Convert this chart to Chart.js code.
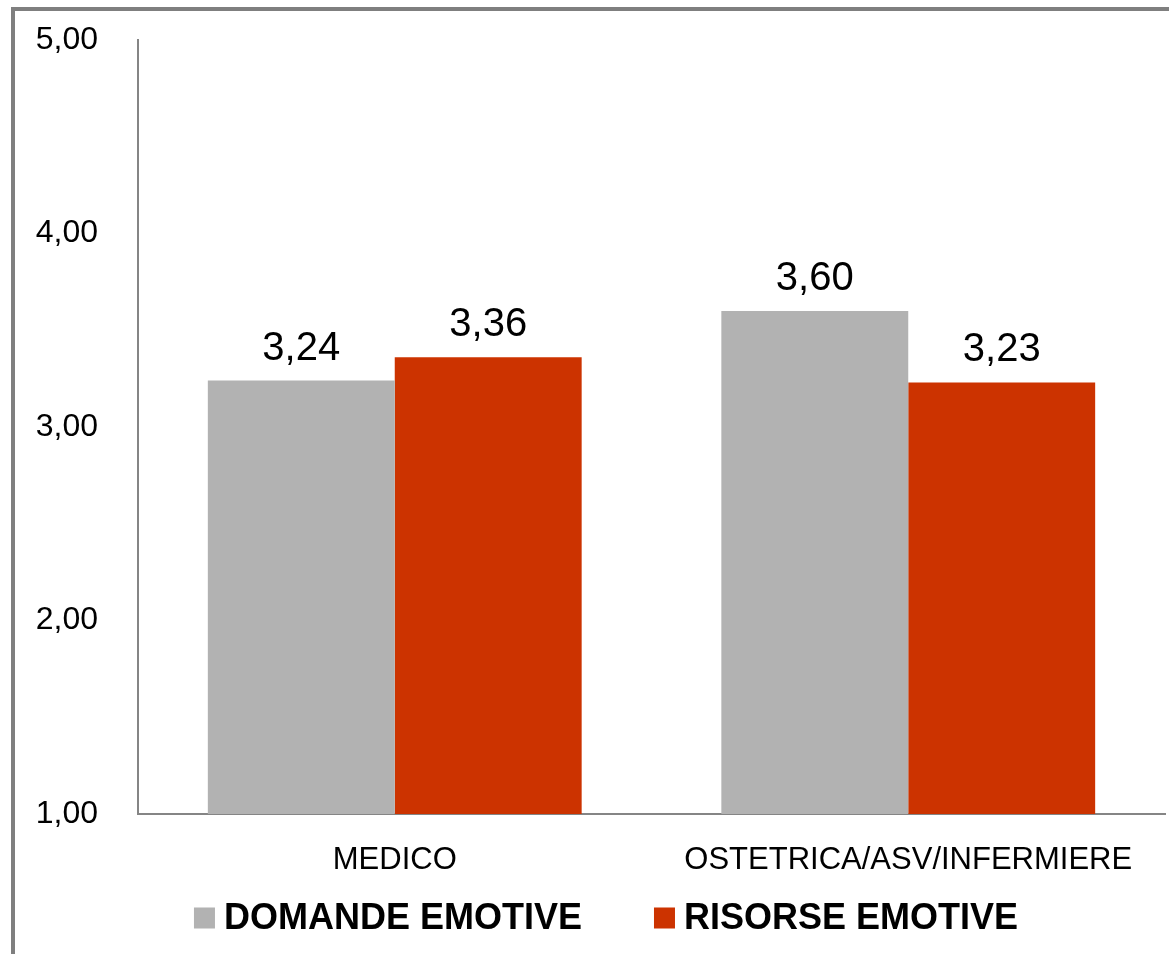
<!DOCTYPE html>
<html>
<head>
<meta charset="utf-8">
<script src="https://cdn.jsdelivr.net/npm/chart.js@4.4.1/dist/chart.umd.min.js"></script>
<style>
  body { margin: 0; background: #fff; }
  #wrap { position: relative; width: 1169px; height: 954px; }
  #frame { position: absolute; left: 11px; top: 7px; right: 0; bottom: 0;
           border-top: 4px solid #7f7f7f; border-left: 4px solid #7f7f7f; }
  canvas { position: absolute; left: 0; top: 0; }
</style>
</head>
<body>
<div id="wrap">
  <div id="frame"></div>
  <canvas id="myChart" width="1169" height="954"></canvas>
</div>
<script>
const categories = ['MEDICO', 'OSTETRICA/ASV/INFERMIERE'];
const domande = [3.24, 3.60];
const risorse = [3.36, 3.23];
const seriesNames = ['DOMANDE EMOTIVE', 'RISORSE EMOTIVE'];

const FONT = '"Liberation Sans", Arial, sans-serif';
const fmt = v => v.toFixed(2).replace('.', ',');

// value above each bar
const valueLabels = {
  id: 'valueLabels',
  afterDatasetsDraw(chart) {
    const ctx = chart.ctx;
    ctx.save();
    ctx.font = '40px ' + FONT;
    ctx.fillStyle = '#000';
    ctx.textAlign = 'center';
    ctx.textBaseline = 'alphabetic';
    chart.data.datasets.forEach((ds, i) => {
      chart.getDatasetMeta(i).data.forEach((bar, j) => {
        ctx.fillText(fmt(ds.data[j]), bar.x, bar.y - 21);
      });
    });
    ctx.restore();
  },
};

// legend under the axis, drawn by hand so the spacing matches
const bottomLegend = {
  id: 'bottomLegend',
  afterDraw(chart) {
    const ctx = chart.ctx;
    const box = 21, gap = 9, itemGap = 72;
    ctx.save();
    ctx.font = 'bold 36px ' + FONT;
    ctx.textBaseline = 'middle';
    const items = chart.data.datasets.map(ds => ({
      text: ds.label, color: ds.backgroundColor, w: ctx.measureText(ds.label).width,
    }));
    const total = items.reduce((s, it) => s + box + gap + it.w, 0) + itemGap * (items.length - 1);
    let x = 606 - total / 2;
    const y = 918;
    items.forEach(it => {
      ctx.fillStyle = it.color;
      ctx.fillRect(x, y - box / 2, box, box);
      ctx.fillStyle = '#000';
      ctx.fillText(it.text, x + box + gap, y + 1);
      x += box + gap + it.w + itemGap;
    });
    ctx.restore();
  },
};

const myChart = new Chart(document.getElementById('myChart').getContext('2d'), {
  type: 'bar',
  data: {
    labels: categories,
    datasets: [
      { label: seriesNames[0], data: domande, backgroundColor: '#b2b2b2' },
      { label: seriesNames[1], data: risorse, backgroundColor: '#cc3300' },
    ],
  },
  options: {
    responsive: false,
    animation: false,
    barPercentage: 1,
    categoryPercentage: 0.728,
    layout: { padding: { top: 40, right: 4, left: 0, bottom: 64 } },
    scales: {
      y: {
        min: 1,
        max: 5,
        ticks: {
          stepSize: 1,
          padding: 32,
          color: '#000',
          font: { family: FONT, size: 32 },
          callback: v => fmt(v),
        },
        grid: { display: false },
        border: { display: true, color: '#858585', width: 2 },
        afterFit: scale => {
          scale.width = 138;
          scale.paddingTop = 0;
          scale.paddingBottom = 0;
        },
      },
      x: {
        ticks: {
          padding: 20,
          color: '#000',
          font: { family: FONT, size: 31 },
          maxRotation: 0,
        },
        grid: { display: false },
        border: { display: true, color: '#858585', width: 2 },
        afterFit: scale => { scale.height = 76; },
      },
    },
    plugins: {
      legend: { display: false },
      tooltip: { enabled: false },
    },
  },
  plugins: [valueLabels, bottomLegend],
});
</script>
</body>
</html>
